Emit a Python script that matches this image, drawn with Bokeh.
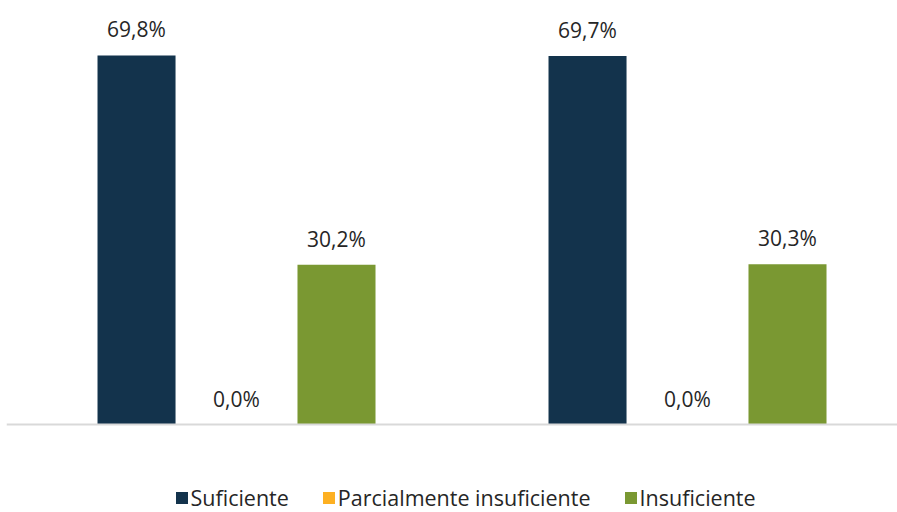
from bokeh.plotting import figure
from bokeh.models import ColumnDataSource, Range1d, Legend, LegendItem, LabelSet, Span
from bokeh.embed import file_html
from bokeh.resources import INLINE
from bokeh.core.properties import value

series_names = ["Suficiente", "Parcialmente insuficiente", "Insuficiente"]
suficiente = [69.8, 69.7]
parcial = [0.0, 0.0]
insuficiente = [30.2, 30.3]
colors = ["#13334C", "#FDB022", "#7A9832"]

FONT = "Open Sans"
W, H = 897, 512
p = figure(width=W, height=H, output_backend="svg", toolbar_location=None,
           x_range=Range1d(-0.51, 1.4656), y_range=Range1d(-16.64, 80.2),
           min_border_left=6, min_border_right=0, min_border_top=0, min_border_bottom=0)
p.outline_line_color = None
p.xgrid.visible = False
p.ygrid.visible = False
p.xaxis.visible = False
p.yaxis.visible = False

p.add_layout(Span(location=0, dimension="width", line_color="#D9D9D9", line_width=2))

offsets = [-0.2217, 0.0, 0.2217]
bw = 0.173
items = []
for name, vals, off, col in zip(series_names, [suficiente, parcial, insuficiente], offsets, colors):
    xs = [i + off for i in range(len(vals))]
    labels = [f"{v:.1f}%".replace(".", ",") for v in vals]
    src = ColumnDataSource(dict(x=xs, top=vals, lab=labels))
    r = p.vbar(x="x", top="top", bottom=0, width=bw, source=src, fill_color=col, line_color=None)
    items.append(LegendItem(label=name, renderers=[r]))
    p.add_layout(LabelSet(x="x", y="top", text="lab", source=src, text_align="center",
                          text_baseline="alphabetic", y_offset=18,
                          text_font=value(FONT), text_font_size="21px", text_color="#262626"))

legend = Legend(items=items, orientation="horizontal", location=(167.5, 0),
                glyph_width=15, glyph_height=15, label_standoff=2, spacing=32,
                padding=0, margin=0, border_line_color=None, background_fill_alpha=0,
                label_text_font=FONT, label_text_font_size="21.5px", label_text_color="#262626")
p.add_layout(legend, "center")

open("out.html", "w").write(file_html(p, INLINE))
